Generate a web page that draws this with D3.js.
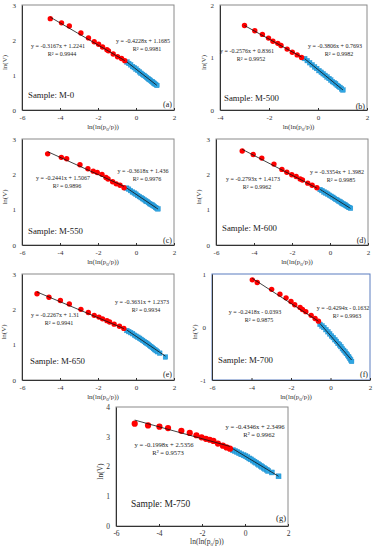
<!DOCTYPE html>
<html>
<head>
<meta charset="utf-8">
<script src="https://cdn.jsdelivr.net/npm/d3@7"></script>
<style>
  body { margin: 0; background: #fff; }
  svg { display: block; }
</style>
</head>
<body>
<div id="chart"></div>
<script>
// sample names and panel tags
const samples = ["M-0", "M-500", "M-550", "M-600", "M-650", "M-700", "M-750"];
const tags = ["(a)", "(b)", "(c)", "(d)", "(e)", "(f)", "(g)"];

// fit lines: [slope, intercept, R2]
const redFits = [
  [-0.3167, 1.2241, 0.9944], [-0.2576, 0.8361, 0.9952], [-0.2441, 1.5067, 0.9896],
  [-0.2793, 1.4173, 0.9962], [-0.2267, 1.31, 0.9941], [-0.2418, -0.0393, 0.9875],
  [-0.1998, 2.5356, 0.9573]
];
const blueFits = [
  [-0.4228, 1.1685, 0.9981], [-0.3806, 0.7693, 0.9982], [-0.3618, 1.436, 0.9976],
  [-0.3354, 1.3982, 0.9985], [-0.3631, 1.2373, 0.9934], [-0.4294, -0.1632, 0.9963],
  [-0.4346, 2.3496, 0.9962]
];

// red points (low pressure part), [ln(ln(p0/p)), ln(V)]
const redM0 = [[-4.51,2.61],[-3.92,2.49],[-3.51,2.40],[-2.90,2.20],[-2.50,2.06],[-2.20,1.95],[-1.97,1.88],
  [-1.76,1.80],[-1.53,1.72],[-1.45,1.69],[-1.20,1.60],[-0.97,1.52],[-0.76,1.47],[-0.59,1.41]];
const redM500 = [[-3.00,1.61],[-2.58,1.51],[-2.27,1.44],[-2.02,1.37],[-1.84,1.31],[-1.64,1.27],[-1.51,1.23],
  [-1.26,1.16],[-1.05,1.10],[-0.85,1.05],[-0.67,1.00]];
const redM550 = [[-4.65,2.58],[-3.93,2.48],[-3.65,2.44],[-2.95,2.27],[-2.53,2.16],[-2.25,2.09],[-2.04,2.05],
  [-1.79,2.00],[-1.58,1.91],[-1.47,1.87],[-1.23,1.79],[-1.04,1.73],[-0.84,1.69],[-0.63,1.62]];
const redM600 = [[-4.62,2.66],[-4.04,2.56],[-3.59,2.46],[-2.95,2.29],[-2.53,2.14],[-2.27,2.06],[-2.01,1.99],
  [-1.78,1.94],[-1.57,1.87],[-1.45,1.84],[-1.17,1.75],[-0.94,1.69],[-0.69,1.62]];
const redM650 = [[-5.21,2.44],[-4.58,2.34],[-3.98,2.25],[-3.51,2.15],[-2.90,2.00],[-2.51,1.91],[-2.20,1.83],
  [-1.95,1.78],[-1.76,1.73],[-1.53,1.68],[-1.39,1.64],[-1.15,1.58],[-0.87,1.52],[-0.64,1.46]];
const redM700 = [[-3.96,0.89],[-3.71,0.84],[-2.98,0.71],[-2.56,0.62],[-2.25,0.55],[-2.00,0.48],[-1.81,0.42],
  [-1.54,0.37],[-1.42,0.33],[-1.25,0.29],[-0.98,0.22],[-0.78,0.16],[-0.61,0.11]];
const redM750 = [[-5.13,3.44],[-4.51,3.38],[-3.98,3.34],[-3.58,3.29],[-2.96,3.20],[-2.57,3.13],[-2.26,3.05],
  [-2.02,2.98],[-1.82,2.93],[-1.64,2.90],[-1.47,2.86],[-1.26,2.77],[-1.03,2.70],[-0.86,2.64],[-0.70,2.60]];

// blue points (high pressure part)
const blueM0 = [[-0.48,1.37],[-0.38,1.33],[-0.28,1.29],[-0.18,1.24],[-0.09,1.21],[0.00,1.17],[0.09,1.13],
  [0.18,1.09],[0.26,1.05],[0.34,1.02],[0.42,0.99],[0.49,0.96],[0.56,0.93],[0.63,0.90],[0.69,0.87],[0.75,0.85],
  [0.81,0.82],[0.87,0.80],[0.93,0.77],[0.98,0.75],[1.04,0.73],[1.10,0.70]];
const blueM500 = [[-0.54,0.98],[-0.44,0.94],[-0.34,0.90],[-0.24,0.86],[-0.14,0.82],[-0.05,0.79],[0.04,0.75],
  [0.13,0.72],[0.21,0.69],[0.29,0.66],[0.37,0.63],[0.45,0.60],[0.52,0.57],[0.59,0.54],[0.66,0.52],[0.72,0.50],
  [0.78,0.47],[0.84,0.45],[0.90,0.43],[0.96,0.40],[1.02,0.38]];
const blueM550 = [[-0.49,1.61],[-0.39,1.58],[-0.29,1.54],[-0.19,1.50],[-0.09,1.47],[0.00,1.44],[0.09,1.40],
  [0.18,1.37],[0.27,1.34],[0.35,1.31],[0.43,1.28],[0.51,1.25],[0.58,1.23],[0.65,1.20],[0.72,1.17],[0.79,1.15],
  [0.85,1.13],[0.91,1.11],[0.97,1.09],[1.03,1.06],[1.09,1.04],[1.16,1.02]];
const blueM600 = [[-0.52,1.57],[-0.42,1.54],[-0.32,1.50],[-0.22,1.47],[-0.12,1.44],[-0.03,1.41],[0.06,1.38],
  [0.15,1.35],[0.23,1.32],[0.31,1.29],[0.39,1.27],[0.47,1.24],[0.54,1.22],[0.61,1.19],[0.68,1.17],[0.74,1.15],
  [0.80,1.13],[0.86,1.11],[0.92,1.09],[0.97,1.07],[1.02,1.06],[1.08,1.04]];
const blueM650 = [[-0.48,1.40],[-0.38,1.37],[-0.28,1.34],[-0.18,1.31],[-0.08,1.27],[0.01,1.24],[0.10,1.21],
  [0.19,1.18],[0.27,1.15],[0.35,1.12],[0.43,1.09],[0.50,1.06],[0.57,1.04],[0.64,1.01],[0.71,0.98],[0.78,0.95],
  [0.85,0.92],[0.92,0.89],[0.99,0.86],[1.06,0.83],[1.13,0.80],[1.25,0.76],[1.55,0.65]];
const blueM700 = [[-0.53,0.05],[-0.43,0.02],[-0.33,-0.01],[-0.23,-0.05],[-0.13,-0.09],[-0.04,-0.13],[0.05,-0.17],
  [0.14,-0.20],[0.22,-0.24],[0.30,-0.27],[0.38,-0.31],[0.46,-0.34],[0.53,-0.37],[0.60,-0.41],[0.67,-0.44],
  [0.74,-0.47],[0.80,-0.50],[0.86,-0.53],[0.92,-0.56],[0.97,-0.59],[1.02,-0.62],[1.07,-0.65]];
const blueM750 = [[-0.57,2.55],[-0.47,2.52],[-0.37,2.49],[-0.27,2.45],[-0.17,2.41],[-0.07,2.38],[0.02,2.35],
  [0.11,2.31],[0.20,2.27],[0.28,2.24],[0.36,2.20],[0.44,2.16],[0.52,2.13],[0.59,2.09],[0.66,2.06],[0.73,2.02],
  [0.80,1.99],[0.87,1.95],[0.94,1.92],[1.01,1.89],[1.08,1.85],[1.25,1.80],[1.56,1.67]];

const redSets = [redM0, redM500, redM550, redM600, redM650, redM700, redM750];
const blueSets = [blueM0, blueM500, blueM550, blueM600, blueM650, blueM700, blueM750];

// axis ranges
const xDomains = [[-6,2],[-4,2],[-6,2],[-6,2],[-6,2],[-6,2],[-6,2]];
const yDomains = [[0,3],[0,2],[0,3],[0,3],[0,3],[-1,1],[0,4]];

// layout of each panel (plot box + where the labels sit)
const layout = [
  {x0: 22, x1: 174, y0: 5, y1: 110, yl: 7, eqR: [58, 48], eqB: [143, 43], smp: [28, 98], tag: [172, 107]},
  {x0: 220, x1: 367, y0: 5, y1: 110, yl: 206, eqR: [247, 53], eqB: [335, 48], smp: [224, 101], tag: [365, 109]},
  {x0: 22, x1: 174, y0: 139, y1: 245, yl: 7, eqR: [63, 180], eqB: [143, 173], smp: [28, 234], tag: [172, 243]},
  {x0: 216, x1: 368, y0: 139, y1: 245, yl: 201, eqR: [253, 181], eqB: [337, 174], smp: [222, 231], tag: [366, 243]},
  {x0: 22, x1: 174, y0: 274, y1: 380, yl: 6, eqR: [55, 317], eqB: [142, 304], smp: [30, 364], tag: [172, 377]},
  {x0: 212, x1: 370, y0: 274, y1: 380, yl: 197, eqR: [255, 314], eqB: [343, 310], smp: [218, 363], tag: [368, 377], border: "#5a7dbf"},
  {x0: 116, x1: 288, y0: 407, y1: 526, yl: 103, eqR: [164, 447], eqB: [255, 429], smp: [131, 507], tag: [286, 521], big: true}
];

const serif = "'Liberation Serif', 'Times New Roman', serif";
const W = 375, H = 550;
const svg = d3.select("#chart").append("svg")
  .attr("width", W)
  .attr("height", H)
  .attr("font-family", serif);

const fmtEq = (f) => "y = " + f[0] + "x " + (f[1] < 0 ? "- " : "+ ") + Math.abs(f[1]);

layout.forEach(function (p, i) {
  let x = d3.scaleLinear().domain(xDomains[i]).range([p.x0, p.x1]);
  let y = d3.scaleLinear().domain(yDomains[i]).range([p.y1, p.y0]);
  let g = svg.append("g");

  // plot frame
  g.append("rect")
    .attr("x", p.x0).attr("y", p.y0)
    .attr("width", p.x1 - p.x0).attr("height", p.y1 - p.y0)
    .attr("fill", "none")
    .attr("stroke", p.border || "#8a8a8a")
    .attr("stroke-width", 1);

  // axes
  let xAxis = g.append("g")
    .attr("transform", "translate(0," + p.y1 + ")")
    .call(d3.axisBottom(x).ticks(4).tickSizeInner(-2).tickSizeOuter(0).tickPadding(5).tickFormat(d3.format("d")));
  let yAxis = g.append("g")
    .attr("transform", "translate(" + p.x0 + ",0)")
    .call(d3.axisLeft(y).ticks(yDomains[i][1] - yDomains[i][0]).tickSizeInner(0).tickSizeOuter(0).tickPadding(6).tickFormat(d3.format("d")));
  [xAxis, yAxis].forEach(function (a) {
    a.attr("font-family", serif).attr("font-size", p.big ? 7.5 : 7);
    a.select(".domain").attr("stroke", "#333");
    a.selectAll(".tick line").attr("stroke", "#333");
    a.selectAll("text")
      .attr("fill", "#333")
      .text(function () { return this.textContent.replace("−", "-"); });
  });

  // axis titles
  let xt = g.append("text")
    .attr("x", (p.x0 + p.x1) / 2 + 5)
    .attr("y", p.y1 + (p.big ? 18 : 19))
    .attr("text-anchor", "middle")
    .attr("fill", "#333")
    .attr("font-size", p.big ? 7.5 : 7);
  xt.append("tspan").text("ln(ln(p");
  xt.append("tspan").attr("dy", 1.5).attr("font-size", 5).text("0");
  xt.append("tspan").attr("dy", -1.5).text("/p))");

  g.append("text")
    .attr("transform", "translate(" + p.yl + "," + ((p.y0 + p.y1) / 2 + 5) + ") rotate(-90)")
    .attr("text-anchor", "middle")
    .attr("fill", "#333")
    .attr("font-size", p.big ? 7.5 : 7)
    .text("ln(V)");

  // blue squares
  let sq = p.big ? 5 : 4.6;
  g.selectAll(".sq")
    .data(blueSets[i])
    .enter().append("rect")
    .attr("x", d => x(d[0]) - sq / 2)
    .attr("y", d => y(d[1]) - sq / 2)
    .attr("width", sq).attr("height", sq)
    .attr("fill", "#2ea6e3")
    .attr("stroke", "#1b8ccc")
    .attr("stroke-width", 0.4);

  // red circles
  g.selectAll(".dot")
    .data(redSets[i])
    .enter().append("circle")
    .attr("cx", d => x(d[0]))
    .attr("cy", d => y(d[1]))
    .attr("r", p.big ? 3.1 : 2.7)
    .attr("fill", "#ff0000");

  // trend lines over each part
  [[redSets[i], redFits[i]], [blueSets[i], blueFits[i]]].forEach(function (s) {
    let ext = d3.extent(s[0], d => d[0]);
    g.append("line")
      .attr("x1", x(ext[0])).attr("y1", y(s[1][0] * ext[0] + s[1][1]))
      .attr("x2", x(ext[1])).attr("y2", y(s[1][0] * ext[1] + s[1][1]))
      .attr("stroke", "#111")
      .attr("stroke-width", 0.8);
  });

  // equations
  let eqSize = p.big ? 6.6 : 6;
  [[p.eqR, redFits[i]], [p.eqB, blueFits[i]]].forEach(function (e) {
    g.append("text")
      .attr("x", e[0][0]).attr("y", e[0][1])
      .attr("text-anchor", "middle")
      .attr("fill", "#222")
      .attr("font-size", eqSize)
      .text(fmtEq(e[1]));
    g.append("text")
      .attr("x", e[0][0] + 4).attr("y", e[0][1] + 7.5)
      .attr("text-anchor", "middle")
      .attr("fill", "#222")
      .attr("font-size", eqSize)
      .text("R² = " + e[1][2]);
  });

  // sample name and tag
  g.append("text")
    .attr("x", p.smp[0]).attr("y", p.smp[1])
    .attr("fill", "#222")
    .attr("font-size", p.big ? 9.5 : 8.8)
    .text("Sample: " + samples[i]);
  g.append("text")
    .attr("x", p.tag[0]).attr("y", p.tag[1])
    .attr("text-anchor", "end")
    .attr("fill", "#222")
    .attr("font-size", p.big ? 8.5 : 8)
    .text(tags[i]);
});
</script>
</body>
</html>
